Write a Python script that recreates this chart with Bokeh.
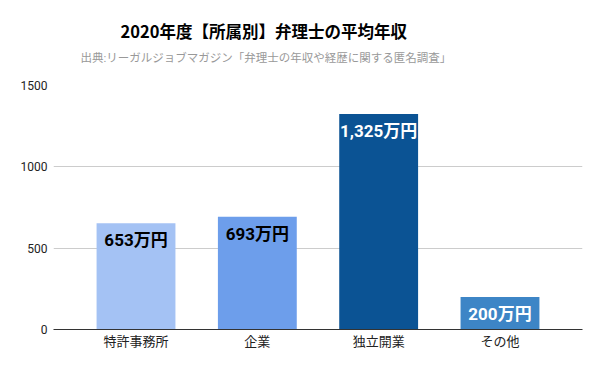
from bokeh.plotting import figure
from bokeh.models import FactorRange, Title, ColumnDataSource, FixedTicker
from bokeh.core.properties import value
from bokeh.embed import file_html
from bokeh.resources import INLINE

categories = ["特許事務所", "企業", "独立開業", "その他"]
salaries = [653, 693, 1325, 200]
bar_labels = ["653万円", "693万円", "1,325万円", "200万円"]
bar_colors = ["#a4c2f4", "#6d9eeb", "#0b5394", "#3d85c6"]
label_colors = ["#000000", "#000000", "#ffffff", "#ffffff"]
y_ticks = [0, 500, 1000, 1500]

title_text = "2020年度【所属別】弁理士の平均年収"
subtitle_text = "出典:リーガルジョブマガジン「弁理士の年収や経歴に関する匿名調査」"

FONT = "Roboto, 'Noto Sans CJK JP'"

src = ColumnDataSource(dict(cat=categories, val=salaries, lab=bar_labels,
                            col=bar_colors, lcol=label_colors))

p = figure(width=584, height=355, output_backend="svg", toolbar_location=None,
           x_range=FactorRange(factors=categories, range_padding=0.09),
           y_range=(0, 1500), title=None,
           min_border_left=53, min_border_right=2, min_border_bottom=26, min_border_top=85)
p.frame_width = 529
p.frame_height = 244
p.outline_line_color = None
p.background_fill_color = "white"
p.border_fill_color = "white"

sub = Title(text=subtitle_text, align="left", offset=27, text_font=FONT, text_font_size="11.5px",
            text_font_style="normal", text_color="#999999", standoff=42)
p.add_layout(sub, "above")
main = Title(text=title_text, align="left", offset=67, text_font="'Noto Sans CJK JP'",
             text_font_size="16.5px", text_font_style="bold", text_color="#000000", standoff=-30)
p.add_layout(main, "above")

p.vbar(x="cat", top="val", width=0.65, color="col", source=src, line_color=None)
p.text(x="cat", y="val", text="lab", text_color="lcol", source=src,
       text_align="center", text_baseline="middle", y_offset=17,
       text_font=value(FONT), text_font_size="17px", text_font_style="bold")

p.yaxis.ticker = FixedTicker(ticks=y_ticks)
p.yaxis.axis_line_color = None
p.yaxis.major_tick_line_color = None
p.yaxis.minor_tick_line_color = None
p.yaxis.major_label_text_font = FONT
p.yaxis.major_label_text_font_size = "12px"
p.yaxis.major_label_text_color = "#222222"
p.yaxis.major_label_standoff = 0

p.xaxis.axis_line_color = "#333333"
p.xaxis.axis_line_width = 1
p.xaxis.major_tick_line_color = None
p.xaxis.minor_tick_line_color = None
p.xaxis.major_label_text_font = FONT
p.xaxis.major_label_text_font_size = "13px"
p.xaxis.major_label_text_color = "#222222"
p.xaxis.major_label_standoff = -2

p.xgrid.grid_line_color = None
p.ygrid.grid_line_color = "#cccccc"
p.ygrid.ticker = FixedTicker(ticks=y_ticks)

open("out.html", "w").write(file_html(p, INLINE))
